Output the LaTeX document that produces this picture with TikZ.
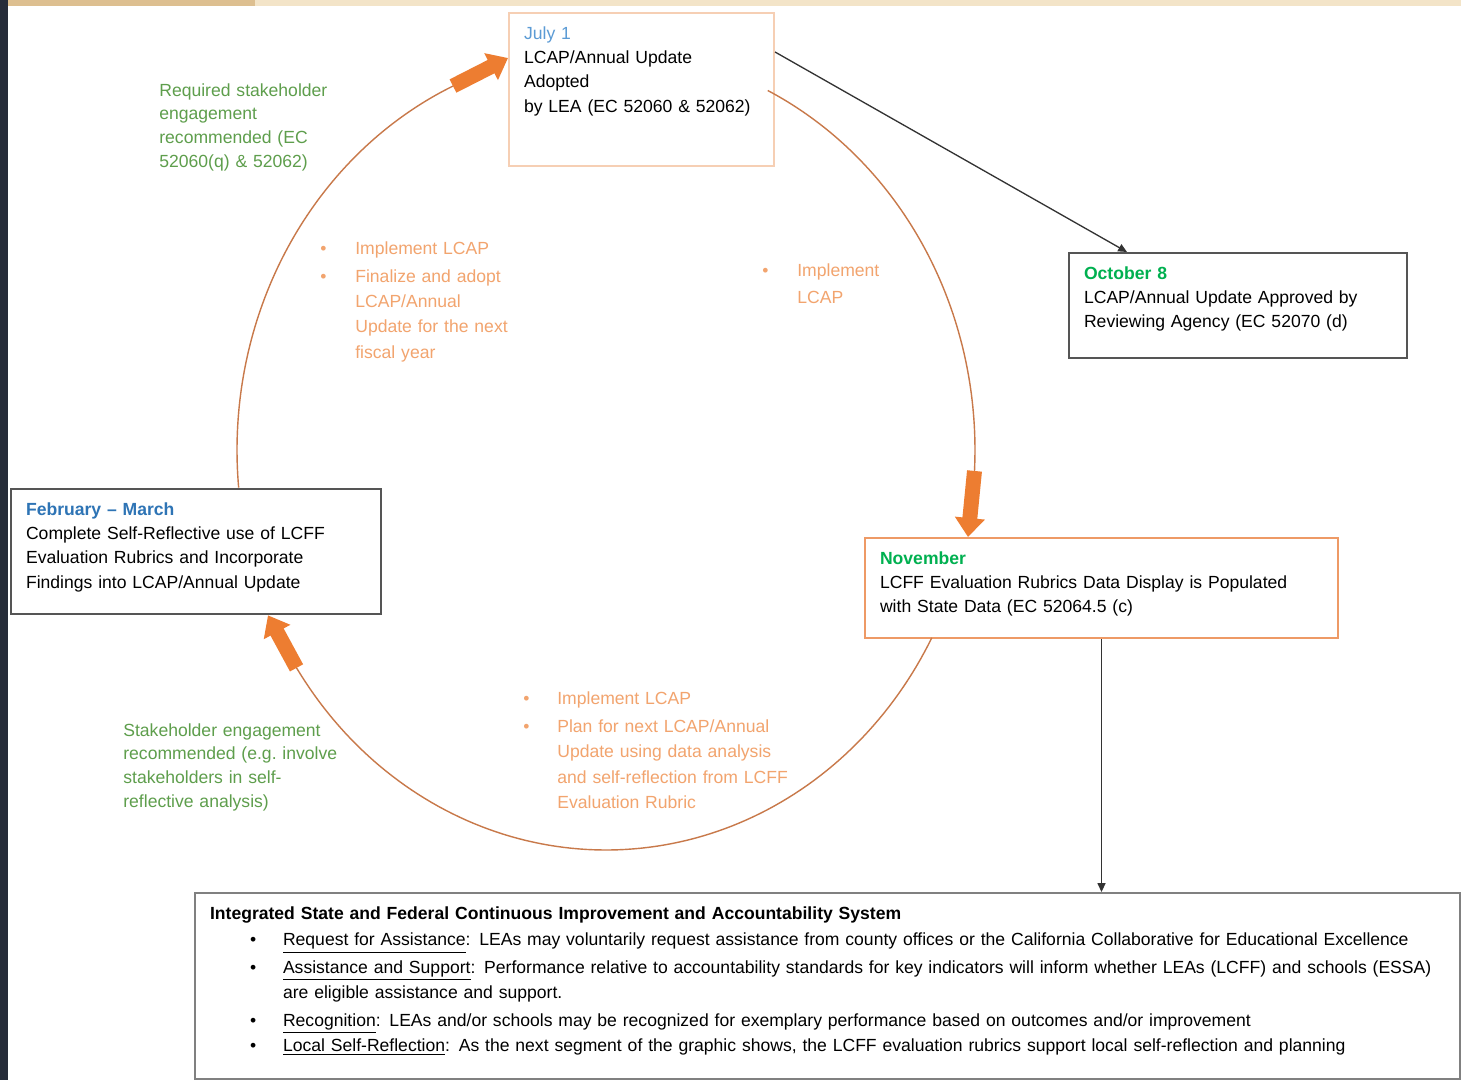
\documentclass[tikz,border=0pt]{standalone}
\usepackage{fontspec}
\setmainfont{Liberation Sans}
\usepackage{tikz}
\usetikzlibrary{arrows.meta,calc}

\definecolor{lcapblue}{HTML}{5B9BD5}
\definecolor{monthblue}{HTML}{2E74B5}
\definecolor{monthgreen}{HTML}{00B050}
\definecolor{notegreen}{HTML}{5E9E4C}
\definecolor{noteorange}{HTML}{F2A46E}
\definecolor{cycorange}{HTML}{C8794A}
\definecolor{arroworange}{HTML}{ED7D31}
\definecolor{peach}{HTML}{F6CFB4}
\definecolor{boxgray}{HTML}{555555}
\definecolor{boxorange}{HTML}{EE9A66}
\definecolor{bandtan}{HTML}{DDBF90}
\definecolor{bandbeige}{HTML}{F3E4C8}
\definecolor{edgenavy}{HTML}{262C39}

\newcommand{\bul}[1]{\makebox[#1][l]{\textbullet}}

\begin{document}
\begin{tikzpicture}[x=0.02cm, y=-0.02cm,
  box/.style={draw, line width=1.2pt, anchor=north west, inner xsep=0.3cm, inner ysep=0.28cm, align=left, font=\fontsize{10}{13.7}\selectfont},
  note/.style={anchor=north west, inner sep=0pt, align=left, text width=6cm},
  bigarrow/.style={arroworange, line width=8.5pt, -{Triangle[width=0.58cm,length=0.38cm]}},
  thinarrow/.style={black!80, line width=0.75pt, -{Triangle[width=4.5pt,length=5pt]}},
  cyc/.style={cycorange, line width=0.8pt}]
   \useasboundingbox (0,0) rectangle (1461,1080);
   \fill[white] (0,0) rectangle (1461,1080);
   \fill[bandbeige] (0,0) rectangle (1461,6);
   \fill[bandtan] (0,0) rectangle (255,6);
   \fill[edgenavy] (0,0) rectangle (8,1080);

   % boxes
   \node[box, draw=peach, text width=4.7cm, text depth=2.25cm] (july) at (508,12)
     {\textcolor{lcapblue}{July 1}\\LCAP/Annual Update\\Adopted\\by LEA (EC 52060 \& 52062)};
   \node[box, draw=boxgray, text width=6.16cm, text depth=1.29cm] (oct) at (1068,252)
     {\textcolor{monthgreen}{\bfseries October 8}\\LCAP/Annual Update Approved by\\Reviewing Agency (EC 52070 (d)};
   \node[box, draw=boxgray, text width=6.8cm, text depth=1.69cm] (febmar) at (10,488)
     {\textcolor{monthblue}{\bfseries February \textendash\ March}\\Complete Self-Reflective use of LCFF\\Evaluation Rubrics and Incorporate\\Findings into LCAP/Annual Update};
   \node[box, draw=boxorange, text width=8.86cm, text depth=1.19cm] (nov) at (864,537)
     {\textcolor{monthgreen}{\bfseries November}\\LCFF Evaluation Rubrics Data Display is Populated\\with State Data (EC 52064.5 (c)};
   \node[box, draw=black!50, text width=24.7cm, text depth=2.9cm, font=\fontsize{10}{14.2}\selectfont] (system) at (194,892)
     {\textbf{Integrated State and Federal Continuous Improvement and Accountability System}\\[0.6pt]
      \hspace*{0.8cm}\bul{0.66cm}\underline{Request for Assistance}: LEAs may voluntarily request assistance from county offices or the California Collaborative for Educational Excellence\\[1.7pt]
      \hspace*{0.8cm}\bul{0.66cm}\underline{Assistance and Support}: Performance relative to accountability standards for key indicators will inform whether LEAs (LCFF) and schools (ESSA)\\
      \hspace*{1.46cm}are eligible assistance and support.\\[1.7pt]
      \hspace*{0.8cm}\bul{0.66cm}\underline{Recognition}: LEAs and/or schools may be recognized for exemplary performance based on outcomes and/or improvement\\
      \hspace*{0.8cm}\bul{0.66cm}\underline{Local Self-Reflection}: As the next segment of the graphic shows, the LCFF evaluation rubrics support local self-reflection and planning};

   % notes round the cycle
   \node[note, text=notegreen, font=\fontsize{10}{13.5}\selectfont] (reqnote) at (159,83)
     {Required stakeholder\\engagement\\recommended (EC\\52060(q) \& 52062)};
   \node[note, text=noteorange, font=\fontsize{10}{14.5}\selectfont] (adoptsteps) at (320,241)
     {\bul{0.7cm}Implement LCAP\\[1.4pt]\bul{0.7cm}Finalize and adopt\\\hspace*{0.7cm}LCAP/Annual\\\hspace*{0.7cm}Update for the next\\\hspace*{0.7cm}fiscal year};
   \node[note, text=noteorange, font=\fontsize{10}{15.4}\selectfont] (implsteps) at (762,263)
     {\bul{0.7cm}Implement\\\hspace*{0.7cm}LCAP};
   \node[note, text=noteorange, font=\fontsize{10}{14.6}\selectfont] (plansteps) at (523,691)
     {\bul{0.68cm}Implement LCAP\\[1.3pt]\bul{0.68cm}Plan for next LCAP/Annual\\\hspace*{0.68cm}Update using data analysis\\\hspace*{0.68cm}and self-reflection from LCFF\\\hspace*{0.68cm}Evaluation Rubric};
   \node[note, text=notegreen, font=\fontsize{10}{13.5}\selectfont] (engnote) at (123,723)
     {Stakeholder engagement\\recommended (e.g.\ involve\\stakeholders in self-\\reflective analysis)};

   % the yearly cycle
   \coordinate (a1) at ({606+369*cos(114.5)},{450-400*sin(114.5)});
   \coordinate (a2) at ({606+369*cos(-3)},{450-400*sin(-3)});
   \coordinate (a3) at ({606+369*cos(213)},{450-400*sin(213)});
   \draw[cyc] plot[domain=114.5:185.4, samples=80] ({606+369*cos(\x)},{450-400*sin(\x)});
   \draw[cyc] plot[domain=-3:64, samples=80] ({606+369*cos(\x)},{450-400*sin(\x)});
   \draw[cyc] plot[domain=-147:-28, samples=100] ({606+369*cos(\x)},{450-400*sin(\x)});
   \draw[bigarrow] (a1) -- ($(july.north west)+(0,46)$);
   \draw[bigarrow] (a2) -- ($(nov.north west)+(104,0)$);
   \draw[bigarrow] (a3) -- ($(febmar.south west)+(258,0)$);

   \draw[thinarrow] ($(july.north east)+(0,40)$) -- ($(oct.north west)+(59,0)$);
   \draw[thinarrow] (nov.south) -- (nov.south |- system.north);
\end{tikzpicture}
\end{document}
